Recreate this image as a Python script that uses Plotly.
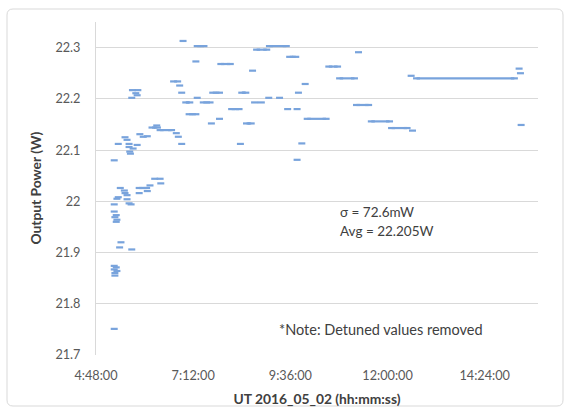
import plotly.graph_objects as go
import pandas as pd

DAY = "2016-05-02 "

# Isolated readings: time of day and output power (W)
point_times = [
    "05:15", "05:15", "05:18", "05:15", "05:19", "05:16", "05:16",
    "05:23", "05:25", "05:41",
    "05:15", "05:15", "05:18", "05:16", "05:19", "05:18",
    "05:19", "05:21", "05:24", "05:30", "05:31",
    "05:34", "05:34", "05:37", "05:40", "05:52", "06:04", "06:08",
    "06:15", "06:23", "06:24", "05:15",
    "05:21", "05:37", "05:49", "06:55", "08:22",
    "05:31", "05:34", "05:37", "05:38", "05:39", "05:43",
    "05:53", "05:58", "06:04", "06:18", "06:47", "06:50",
    "05:41", "05:42", "05:50", "05:47", "05:49",
    "06:43", "06:49", "06:52", "06:55", "06:57", "07:16", "07:18",
    "07:39", "07:51", "08:40", "08:43", "08:53", "09:04", "09:20",
    "09:32", "09:46", "09:48", "09:46", "09:53", "09:58",
    "11:17", "12:37", "12:35", "15:15", "15:17", "15:18",
]
point_power = [
    21.751, 21.874, 21.871, 21.867, 21.864, 21.860, 21.855,
    21.910, 21.920, 21.906,
    21.994, 21.980, 21.973, 21.969, 21.964, 21.960,
    22.005, 22.008, 22.026, 22.021, 22.016,
    22.012, 22.004, 21.996, 21.994, 22.016, 22.020, 22.031,
    22.044, 22.044, 22.035, 22.080,
    22.112, 22.112, 22.110, 22.112, 22.112,
    22.125, 22.120, 22.106, 22.097, 22.093, 22.103,
    22.131, 22.126, 22.127, 22.148, 22.133, 22.126,
    22.202, 22.217, 22.217, 22.211, 22.207,
    22.234, 22.234, 22.226, 22.212, 22.313, 22.273, 22.202,
    22.152, 22.161, 22.255, 22.193, 22.193, 22.202, 22.202,
    22.180, 22.180, 22.212, 22.081, 22.113, 22.229,
    22.291, 22.138, 22.245, 22.259, 22.250, 22.149,
]

# Runs of consecutive readings at the same level: start, end, power (W)
run_start = [
    "05:52", "06:11", "06:23", "07:18", "07:01", "07:27", "07:06",
    "07:41", "07:53", "08:09", "08:24", "08:31", "08:46", "09:05",
    "09:35", "10:01", "10:33", "10:49", "11:14", "11:36", "12:06", "12:43",
]
run_end = [
    "06:03", "06:19", "06:40", "07:28", "07:07", "07:37", "07:16",
    "07:51", "08:07", "08:20", "08:30", "08:38", "09:01", "09:30",
    "09:44", "10:29", "10:46", "11:11", "11:32", "12:03", "12:29", "15:08",
]
run_power = [
    22.026, 22.144, 22.139, 22.303, 22.193, 22.193, 22.170,
    22.212, 22.268, 22.180, 22.212, 22.152, 22.296, 22.303,
    22.282, 22.161, 22.263, 22.240, 22.188, 22.156, 22.143, 22.240,
]

y_ticks = [21.7, 21.8, 21.9, 22.0, 22.1, 22.2, 22.3]
x_tick_times = ["04:48:00", "07:12:00", "09:36:00", "12:00:00", "14:24:00"]
x_tick_text = ["4:48:00", "7:12:00", "9:36:00", "12:00:00", "14:24:00"]

BLUE = "#78a3dc"
FONT = "Lato"
TITLE_COLOR = "#404040"

# Plot-area pixel frame, used to place the outer frame and the text notes
L, R, T, B = 96, 538, 22, 355
W, H = R - L, B - T


def ts(t):
    return pd.Timestamp(DAY + t)


def px(xp, yp):
    return (xp - L) / W, (B - yp) / H


# Line bodies of the runs, separated by gaps
run_x, run_y = [], []
for s, e, v in zip(run_start, run_end, run_power):
    run_x += [ts(s), ts(e), None]
    run_y += [v, v, None]

# Dash markers at every isolated reading and at the ends of each run
mark_x = [ts(t) for t in point_times] + [ts(t) for t in run_start] + [ts(t) for t in run_end]
mark_y = point_power + run_power + run_power

fig = go.Figure()
fig.add_trace(go.Scatter(
    x=run_x, y=run_y, mode="lines",
    line=dict(color=BLUE, width=2.2), hoverinfo="skip", showlegend=False,
))
fig.add_trace(go.Scatter(
    x=mark_x, y=mark_y, mode="markers",
    marker=dict(symbol="line-ew", size=5, line=dict(color=BLUE, width=2.2)),
    showlegend=False,
))

# Rounded outer frame of the chart
x0, y0 = px(7, 406)
x1, y1 = px(563, 9)
rx, ry = 6 / W, 6 / H
frame = (f"M {x0 + rx} {y0} L {x1 - rx} {y0} Q {x1} {y0} {x1} {y0 + ry} "
         f"L {x1} {y1 - ry} Q {x1} {y1} {x1 - rx} {y1} "
         f"L {x0 + rx} {y1} Q {x0} {y1} {x0} {y1 - ry} "
         f"L {x0} {y0 + ry} Q {x0} {y0} {x0 + rx} {y0} Z")

yt_x, yt_y = px(24, 188)
sg_x, sg_y = px(338, 212)
av_x, av_y = px(338, 231)
nt_x, nt_y = px(277, 329)

fig.update_layout(
    width=570, height=417,
    margin=dict(l=L, r=570 - R, t=T, b=417 - B),
    paper_bgcolor="white", plot_bgcolor="white",
    font=dict(family=FONT, size=12.5, color="#595959"),
    xaxis=dict(
        range=[ts("04:48:00"), ts("15:43:00")],
        tickvals=[ts(t) for t in x_tick_times], ticktext=x_tick_text,
        showgrid=False, zeroline=False, showline=False, ticks="",
        ticklabelstandoff=11,
        tickfont=dict(size=12.7, color="#595959"),
        title=dict(text="<b>UT 2016_05_02 (hh:mm:ss)</b>",
                   font=dict(size=13.8, color=TITLE_COLOR), standoff=12),
    ),
    yaxis=dict(
        range=[21.7, 22.35], tickvals=y_ticks,
        showgrid=True, gridcolor="#d9d9d9", gridwidth=1,
        zeroline=False, showline=True, linecolor="#d9d9d9", linewidth=1,
        ticks="", ticklabelstandoff=12,
        tickfont=dict(size=12.7, color="#595959"),
    ),
    annotations=[
        dict(text="<b>Output Power (W)</b>", textangle=-90, xref="paper", yref="paper",
             x=yt_x, y=yt_y, showarrow=False,
             font=dict(size=13.8, color=TITLE_COLOR)),
        dict(text="σ = 72.6mW", xref="paper", yref="paper", x=sg_x, y=sg_y,
             xanchor="left", yanchor="middle", showarrow=False,
             font=dict(size=13.5, color=TITLE_COLOR)),
        dict(text="Avg = 22.205W", xref="paper", yref="paper", x=av_x, y=av_y,
             xanchor="left", yanchor="middle", showarrow=False,
             font=dict(size=13.5, color=TITLE_COLOR)),
        dict(text="*Note: Detuned values removed", xref="paper", yref="paper",
             x=nt_x, y=nt_y, xanchor="left", yanchor="middle",
             showarrow=False, font=dict(size=14.5, color=TITLE_COLOR)),
    ],
    shapes=[
        dict(type="path", xref="paper", yref="paper", path=frame,
             line=dict(color="#d9d9d9", width=1), layer="below"),
    ],
)

fig.write_html("out.html")
